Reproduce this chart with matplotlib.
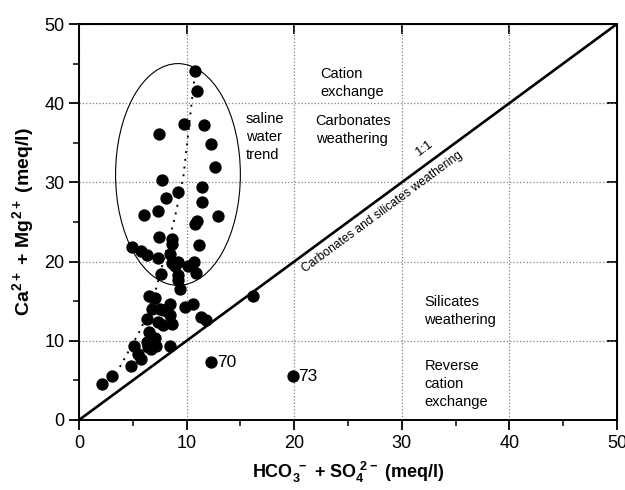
import matplotlib
matplotlib.use('Agg')
import matplotlib.pyplot as plt
from matplotlib.patches import Ellipse
from matplotlib.ticker import MultipleLocator, NullLocator

plt.rcParams['font.family'] = ['Liberation Sans', 'DejaVu Sans']
plt.rcParams['mathtext.fontset'] = 'custom'
plt.rcParams['mathtext.rm'] = 'Liberation Sans:bold'
plt.rcParams['mathtext.default'] = 'rm'

# HCO3- + SO4 2- (meq/l)
hco3_so4 = [10.8, 11.0, 9.8, 11.6, 7.4, 12.3, 12.6, 7.7, 11.4, 9.2,
            8.1, 11.4, 7.3, 6.0, 12.9, 11.0, 10.8, 7.4, 11.2, 8.6,
            8.6, 4.9, 5.8, 6.3, 7.3, 8.5, 8.6, 9.2, 8.9, 10.1,
            10.7, 7.6, 9.2, 9.2, 10.9, 9.4, 6.5, 7.1, 16.2, 8.5,
            9.9, 10.6, 6.8, 7.5, 7.8, 6.3, 8.5, 11.3, 11.8, 7.3,
            7.8, 8.6, 6.5, 7.1, 6.3, 5.1, 6.4, 7.2, 8.5, 5.5,
            6.7, 5.8, 4.8, 3.1, 2.1, 12.3, 19.9]
# Ca2+ + Mg2+ (meq/l)
ca_mg = [44.1, 41.5, 37.4, 37.3, 36.1, 34.9, 32.0, 30.3, 29.4, 28.8,
         28.0, 27.5, 26.4, 25.9, 25.7, 25.1, 24.8, 23.1, 22.1, 22.8,
         22.2, 21.8, 21.3, 20.8, 20.4, 21.0, 19.8, 20.0, 19.4, 19.5,
         20.0, 18.4, 18.3, 17.7, 18.5, 16.5, 15.6, 15.4, 15.6, 14.6,
         14.3, 14.7, 14.0, 14.0, 13.9, 12.8, 13.3, 13.0, 12.6, 12.4,
         12.0, 12.1, 11.1, 10.4, 9.9, 9.3, 9.2, 9.3, 9.4, 8.3,
         8.9, 7.7, 6.8, 5.5, 4.6, 7.3, 5.5]

# saline water trend (dotted)
trend_x = [3.8, 5.8, 7.2, 8.9, 9.7, 10.5, 10.8]
trend_y = [6.7, 11.6, 16.7, 25.5, 30.7, 40.4, 44.0]

labelled = {'70': (12.3, 7.3), '73': (19.9, 5.5)}

fig = plt.figure(figsize=(6.25, 4.9), dpi=100)
ax = fig.add_axes([0.1264, 0.1429, 0.8606, 0.8081])

ax.grid(True, color='gray', linestyle=':', linewidth=0.9)
ax.set_axisbelow(True)

ax.plot([0, 50], [0, 50], color='black', linewidth=1.9, zorder=2)
ax.plot(trend_x, trend_y, color='black', linestyle=(0, (1, 3)), linewidth=1.4, zorder=2)
ax.add_patch(Ellipse((9.2, 31.0), 11.6, 28.0, fill=False, edgecolor='black', linewidth=0.8, zorder=2))
ax.scatter(hco3_so4, ca_mg, s=62, color='black', zorder=3)

for name, (px, py) in labelled.items():
    ax.text(px + 0.5, py, name, fontsize=12.5, va='center', ha='left')

ax.text(22.4, 42.6, 'Cation\nexchange', fontsize=10.5, ha='left', va='center', linespacing=1.35)
ax.text(22.0, 36.6, 'Carbonates\nweathering', fontsize=10.5, ha='left', va='center', linespacing=1.35)
ax.text(15.5, 35.7, 'saline\nwater\ntrend', fontsize=10.5, ha='left', va='center', linespacing=1.35)
ax.text(32.1, 13.8, 'Silicates\nweathering', fontsize=10.5, ha='left', va='center', linespacing=1.35)
ax.text(32.1, 4.5, 'Reverse\ncation\nexchange', fontsize=10.5, ha='left', va='center', linespacing=1.35)
ax.text(32.1, 34.3, '1:1', fontsize=9.5, ha='center', va='center', rotation=36.4)
ax.text(28.2, 26.2, 'Carbonates and silicates weathering', fontsize=8.7,
        ha='center', va='center', rotation=36.4)

ax.set_xlim(0, 50)
ax.set_ylim(0, 50)
ax.xaxis.set_major_locator(MultipleLocator(10))
ax.yaxis.set_major_locator(MultipleLocator(10))
ax.xaxis.set_minor_locator(MultipleLocator(5))
ax.yaxis.set_minor_locator(MultipleLocator(5))
ax.tick_params(which='major', direction='out', length=7, width=1.3, labelsize=13)
ax.tick_params(which='minor', direction='out', length=4, width=1.1)
for s in ax.spines.values():
    s.set_linewidth(1.4)

# mirrored ticks, inward, major only
top = ax.secondary_xaxis('top')
top.xaxis.set_major_locator(MultipleLocator(10))
top.xaxis.set_minor_locator(NullLocator())
top.tick_params(direction='in', length=7, width=1.3, labeltop=False)
right = ax.secondary_yaxis('right')
right.yaxis.set_major_locator(MultipleLocator(10))
right.yaxis.set_minor_locator(NullLocator())
right.tick_params(direction='in', length=7, width=1.3, labelright=False)

ax.set_xlabel(r'HCO$_3^{\ -}$ + SO$_4^{\ 2-}$ (meq/l)', fontsize=13, fontweight='bold', labelpad=6)
ax.set_ylabel(r'Ca$^{2+}$ + Mg$^{2+}$ (meq/l)', fontsize=14, fontweight='bold', labelpad=6)

fig.savefig('out.png', dpi=100)
